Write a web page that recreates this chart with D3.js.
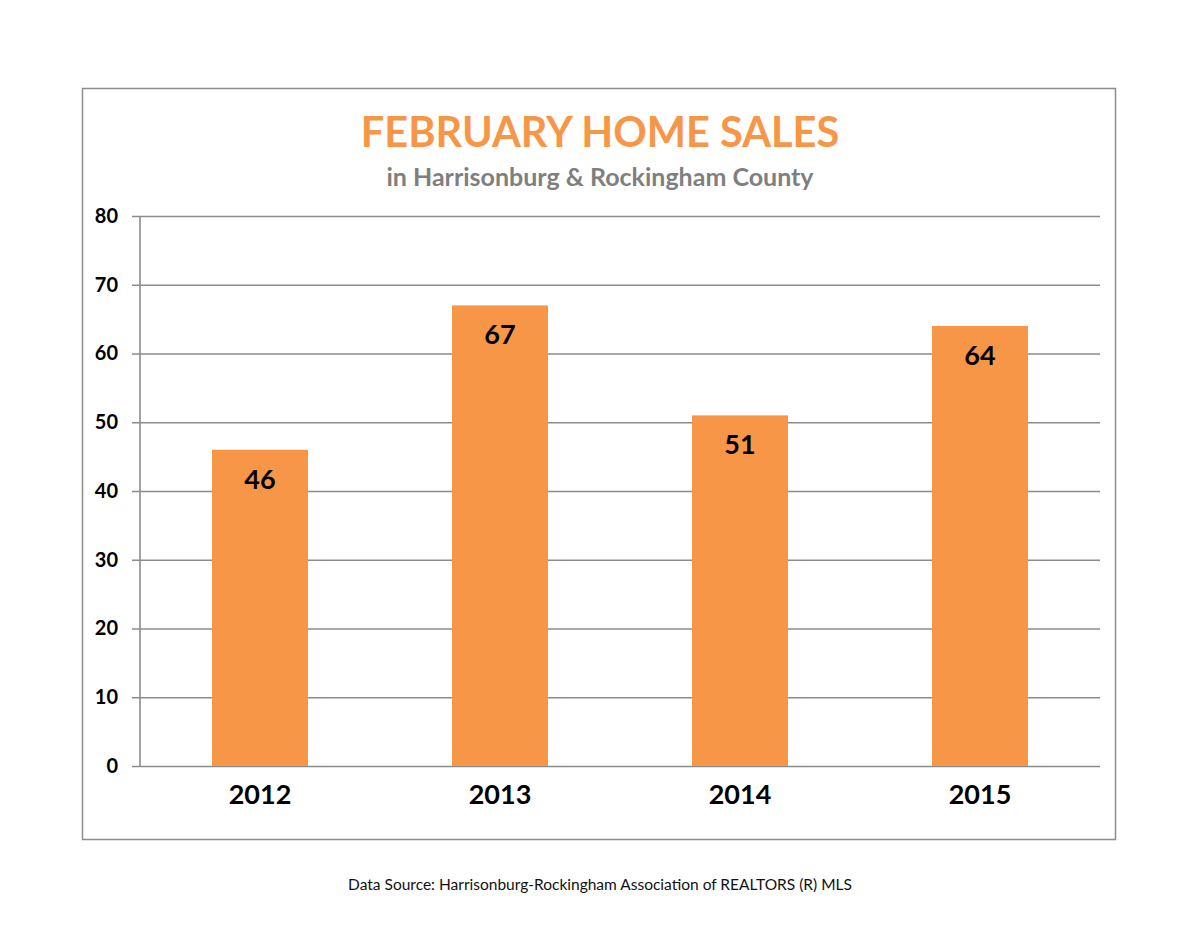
<!DOCTYPE html>
<html>
<head>
<meta charset="utf-8">
<script src="https://cdn.jsdelivr.net/npm/d3@7"></script>
<style>
  body { margin: 0; background: #fff; }
  text { font-family: Lato, "Open Sans", sans-serif; }
</style>
</head>
<body>
<div id="chart"></div>
<script>
// chart data
var years = ["2012", "2013", "2014", "2015"];
var sales = [46, 67, 51, 64];
var yTicks = [0, 10, 20, 30, 40, 50, 60, 70, 80];

var svgWidth = 1200;
var svgHeight = 928;

var svg = d3.select("#chart")
    .append("svg")
    .attr("width", svgWidth)
    .attr("height", svgHeight);

// outer frame
svg.append("rect")
    .attr("x", 82.5)
    .attr("y", 88.5)
    .attr("width", 1033)
    .attr("height", 751)
    .attr("fill", "#fff")
    .attr("stroke", "#8c8c8c")
    .attr("stroke-width", 1.5);

var x = d3.scaleBand()
    .domain(years)
    .range([140, 1100])
    .paddingInner(0.6)
    .paddingOuter(0.3);

var y = d3.scaleLinear()
    .domain([0, 80])
    .range([766, 216]);

// gridlines + y axis
var yAxis = d3.axisLeft(y)
    .tickValues(yTicks)
    .tickSize(-(1100 - 140))
    .tickSizeOuter(0)
    .tickPadding(22)
    .tickFormat(d3.format("d"));

var yg = svg.append("g")
    .attr("transform", "translate(140,0)")
    .call(yAxis);
yg.select(".domain").remove();
yg.selectAll(".tick line")
    .attr("x1", -8)
    .attr("stroke", "#8c8c8c")
    .attr("stroke-width", 1.6);
yg.selectAll(".tick text")
    .attr("fill", "#000")
    .style("font-size", "20px")
    .style("font-weight", "bold");

// vertical axis line
svg.append("line")
    .attr("x1", 140).attr("x2", 140)
    .attr("y1", y(80)).attr("y2", y(0))
    .attr("stroke", "#8c8c8c")
    .attr("stroke-width", 1.6);

// bars
svg.append("g")
    .selectAll("rect")
    .data(sales)
    .enter()
    .append("rect")
    .attr("x", (d, i) => x(years[i]))
    .attr("y", d => y(d))
    .attr("width", x.bandwidth())
    .attr("height", d => y(0) - y(d))
    .attr("fill", "#f79646");

// value labels
svg.append("g")
    .selectAll("text")
    .data(sales)
    .enter()
    .append("text")
    .attr("x", (d, i) => x(years[i]) + x.bandwidth() / 2)
    .attr("y", d => y(d) + 39)
    .attr("text-anchor", "middle")
    .style("font-size", "27px")
    .style("font-weight", "bold")
    .attr("fill", "#000")
    .text(d => d);

// x axis labels
var xAxis = d3.axisBottom(x).tickSize(0).tickPadding(19);
var xg = svg.append("g")
    .attr("transform", "translate(0,766)")
    .call(xAxis);
xg.select(".domain").remove();
xg.selectAll(".tick text")
    .attr("fill", "#000")
    .style("font-size", "27px")
    .style("font-weight", "bold");

// titles
svg.append("text")
    .attr("x", 600)
    .attr("y", 147)
    .attr("text-anchor", "middle")
    .attr("fill", "#f79646")
    .style("font-size", "41.5px")
    .style("font-weight", "bold")
    .text("FEBRUARY HOME SALES");

svg.append("text")
    .attr("x", 600)
    .attr("y", 186)
    .attr("text-anchor", "middle")
    .attr("fill", "#7f7f7f")
    .style("font-size", "25px")
    .style("font-weight", "bold")
    .text("in Harrisonburg & Rockingham County");

// source note
svg.append("text")
    .attr("x", 600)
    .attr("y", 890)
    .attr("text-anchor", "middle")
    .attr("fill", "#111")
    .style("font-size", "15.5px")
    .text("Data Source: Harrisonburg-Rockingham Association of REALTORS (R) MLS");
</script>
</body>
</html>
